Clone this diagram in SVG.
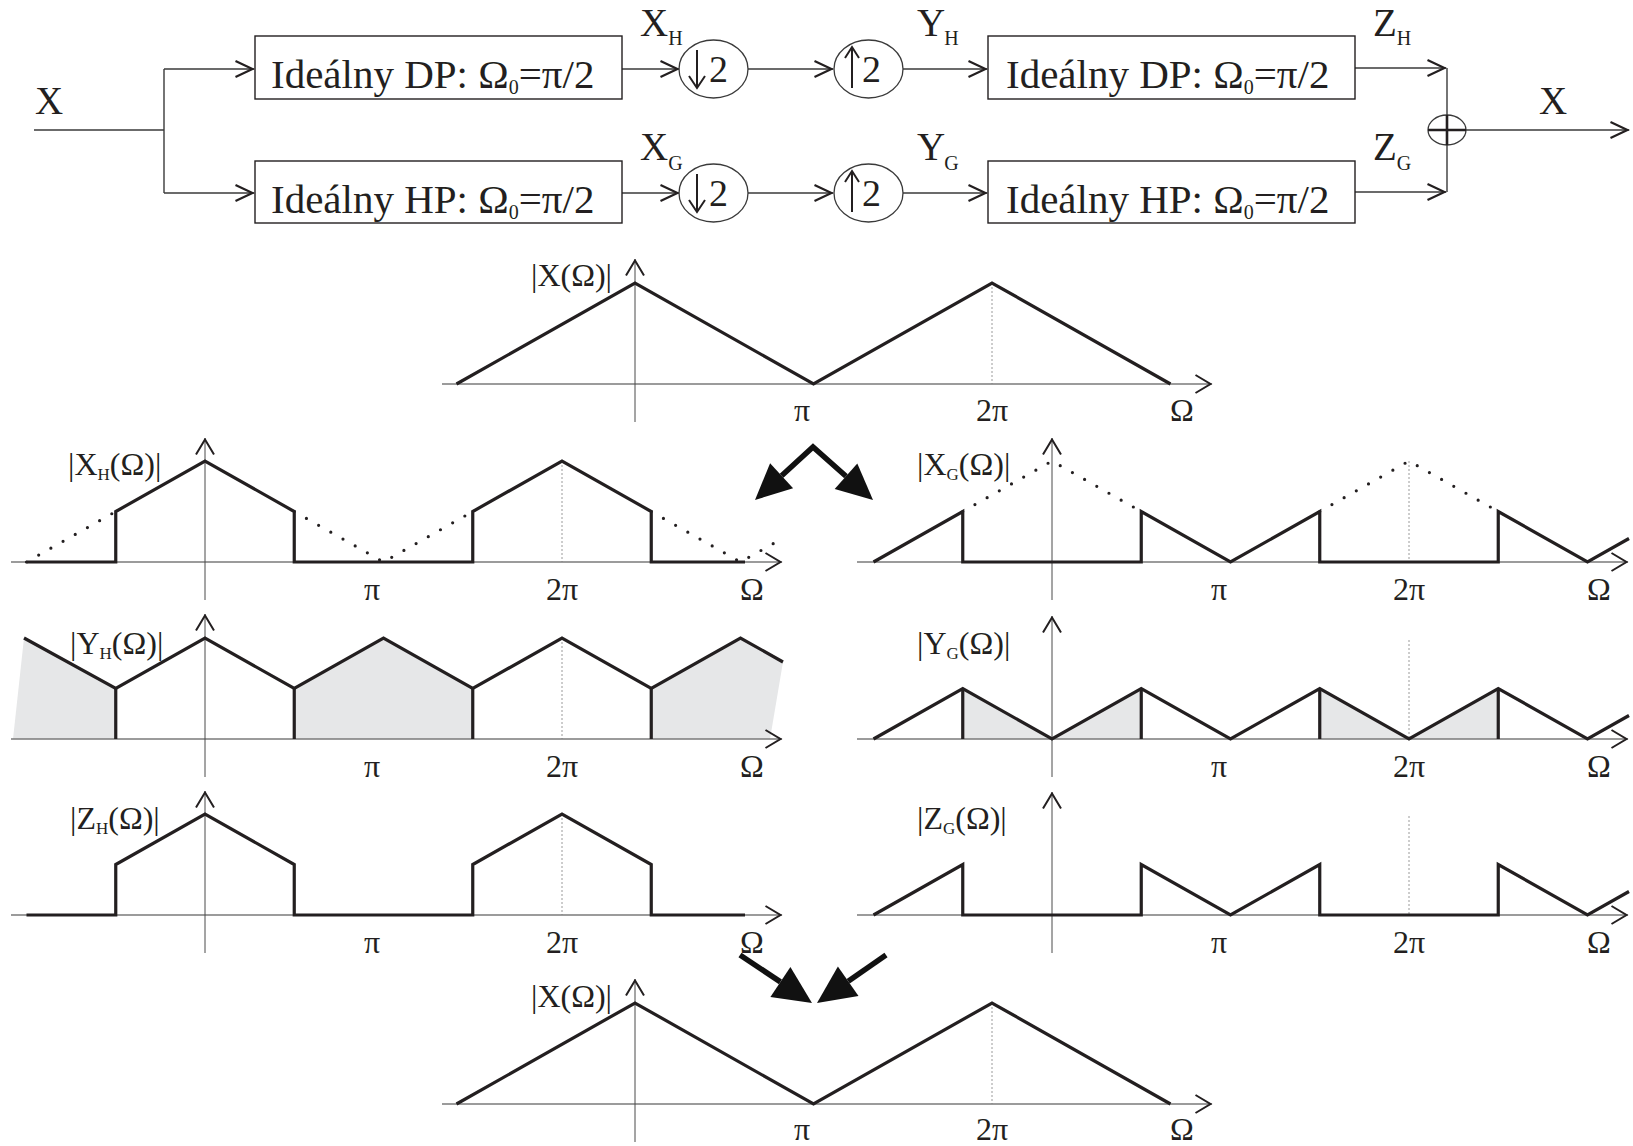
<svg xmlns="http://www.w3.org/2000/svg" width="1633" height="1146" viewBox="0 0 1633 1146">
  <style>
    text { font-family: "Liberation Serif", "Times New Roman", serif; fill: #231f20; }
    .box { fill: none; stroke: #231f20; stroke-width: 1.4; }
    .wire { fill: none; stroke: #3a3a3a; stroke-width: 1.4; }
    .ftxt { font-size: 41px; }
    .lbl { font-size: 39px; }
    .sub { font-size: 20px; }
    .num { font-size: 38px; }
    .plab { font-size: 32px; }
    .psub { font-size: 17px; }
    .tick { font-size: 32px; text-anchor: middle; }
    .haxis { fill: none; stroke: #7a7a7a; stroke-width: 1.6; }
    .vaxis { fill: none; stroke: #4a4a4a; stroke-width: 1; }
    .curve { fill: none; stroke: #231f20; stroke-width: 3.2; stroke-linejoin: miter; }
    .dots { fill: none; stroke: #231f20; stroke-width: 3.2; stroke-linecap: round; stroke-dasharray: 0 14; }
    .guide { fill: none; stroke: #9a9a9a; stroke-width: 1; stroke-dasharray: 2 2; }
    .shade { fill: #e6e7e8; stroke: none; }
    .fat { fill: none; stroke: #111; stroke-width: 5.5; stroke-linejoin: miter; }
    .head { fill: #111; }
    .ring { fill: none; stroke: #3a3a3a; stroke-width: 1.3; }
    .inarrow { fill: none; stroke: #231f20; stroke-width: 2; }
  </style>
  <defs>
    <marker id="chev" viewBox="-20 -10 22 20" refX="1.5" refY="0" markerWidth="22" markerHeight="20" orient="auto" markerUnits="userSpaceOnUse">
      <path d="M-17,-8 L0,0 L-17,8" fill="none" stroke="#231f20" stroke-width="2.2"/>
    </marker>
    <marker id="axchev" viewBox="-20 -10 22 20" refX="1.5" refY="0" markerWidth="22" markerHeight="20" orient="auto" markerUnits="userSpaceOnUse">
      <path d="M-15,-9 L0,0 L-15,9" fill="none" stroke="#231f20" stroke-width="2"/>
    </marker>
  </defs>

  <!-- ===== filter bank block diagram ===== -->
  <g id="connectors">
    <path class="wire" d="M34,130 H164"/>
    <path class="wire" d="M164,69 V193"/>
    <path class="wire" d="M164,69 H254" marker-end="url(#chev)"/>
    <path class="wire" d="M164,193 H254" marker-end="url(#chev)"/>
    <path class="wire" d="M622,69 H679" marker-end="url(#chev)"/>
    <path class="wire" d="M622,193 H679" marker-end="url(#chev)"/>
    <path class="wire" d="M748,69 H833" marker-end="url(#chev)"/>
    <path class="wire" d="M748,193 H833" marker-end="url(#chev)"/>
    <path class="wire" d="M903,69 H987" marker-end="url(#chev)"/>
    <path class="wire" d="M903,193 H987" marker-end="url(#chev)"/>
    <path class="wire" d="M1355,68 H1446" marker-end="url(#chev)"/>
    <path class="wire" d="M1355,192 H1446" marker-end="url(#chev)"/>
    <path class="wire" d="M1447,68 V192"/>
    <path class="wire" d="M1466,130 H1629" marker-end="url(#chev)"/>
  </g>

  <text class="lbl" x="35" y="114">X</text>
  <text class="lbl" x="1539" y="114">X</text>

  <g id="lp-analysis">
    <rect class="box" x="255" y="36" width="367" height="63"/>
    <text class="ftxt" x="271" y="88">Ideálny DP: Ω<tspan class="sub" dy="6">0</tspan><tspan dy="-6">=π/2</tspan></text>
  </g>
  <g id="hp-analysis">
    <rect class="box" x="255" y="161" width="367" height="62"/>
    <text class="ftxt" x="271" y="213">Ideálny HP: Ω<tspan class="sub" dy="6">0</tspan><tspan dy="-6">=π/2</tspan></text>
  </g>
  <g id="down-h">
    <ellipse class="ring" cx="713.5" cy="69" rx="34.5" ry="29"/>
    <path class="inarrow" d="M697,50 V88 M689,76 L697,88 L705,76"/>
    <text class="num" x="709" y="82">2</text>
  </g>
  <g id="down-g">
    <ellipse class="ring" cx="713.5" cy="193" rx="34.5" ry="29"/>
    <path class="inarrow" d="M697,174 V212 M689,200 L697,212 L705,200"/>
    <text class="num" x="709" y="206">2</text>
  </g>
  <g id="up-h">
    <ellipse class="ring" cx="868.5" cy="69" rx="34.5" ry="29"/>
    <path class="inarrow" d="M852,88 V47 M845,58 L852,47 L859,58"/>
    <text class="num" x="862" y="82">2</text>
  </g>
  <g id="up-g">
    <ellipse class="ring" cx="868.5" cy="193" rx="34.5" ry="29"/>
    <path class="inarrow" d="M852,212 V171 M845,182 L852,171 L859,182"/>
    <text class="num" x="862" y="206">2</text>
  </g>
  <g id="lp-synthesis">
    <rect class="box" x="988" y="36" width="367" height="63"/>
    <text class="ftxt" x="1006" y="88">Ideálny DP: Ω<tspan class="sub" dy="6">0</tspan><tspan dy="-6">=π/2</tspan></text>
  </g>
  <g id="hp-synthesis">
    <rect class="box" x="988" y="161" width="367" height="62"/>
    <text class="ftxt" x="1006" y="213">Ideálny HP: Ω<tspan class="sub" dy="6">0</tspan><tspan dy="-6">=π/2</tspan></text>
  </g>
  <g id="adder">
    <ellipse class="ring" cx="1447" cy="130" rx="19" ry="15"/>
    <path d="M1428,130 H1466 M1447,115 V145" stroke="#231f20" stroke-width="2.6" fill="none"/>
  </g>

  <!-- signal names -->
  <g id="signal-labels">
    <text class="lbl" x="640" y="36">X<tspan class="sub" dy="9">H</tspan></text>
    <text class="lbl" x="640" y="160">X<tspan class="sub" dy="10">G</tspan></text>
    <text class="lbl" x="917" y="36">Y<tspan class="sub" dx="-1" dy="9">H</tspan></text>
    <text class="lbl" x="917" y="160">Y<tspan class="sub" dx="-1" dy="10">G</tspan></text>
    <text class="lbl" x="1373" y="36">Z<tspan class="sub" dy="9">H</tspan></text>
    <text class="lbl" x="1373" y="160">Z<tspan class="sub" dy="10">G</tspan></text>
  </g>

  <!-- ===== spectrum |X(Ω)| of the input ===== -->
  <g id="spec-x">
    <path class="guide" d="M992,283 V384"/>
    <path class="haxis" d="M442,384 H1212" marker-end="url(#axchev)"/>
    <path class="vaxis" d="M635,422 V259" marker-end="url(#axchev)"/>
    <path class="curve" d="M456.5,384 L635,283 L813.5,384 L992,283 L1170.5,384"/>
    <text class="plab" x="531" y="286">|X(Ω)|</text>
    <text class="tick" x="802" y="421">π</text>
    <text class="tick" x="992" y="421">2π</text>
    <text class="tick" x="1182" y="421">Ω</text>
  </g>

  <!-- ===== |X_H(Ω)| ===== -->
  <g id="spec-xh">
    <path class="guide" d="M562,461 V562"/>
    <path class="haxis" d="M11,562 H782" marker-end="url(#axchev)"/>
    <path class="vaxis" d="M205,600 V438" marker-end="url(#axchev)"/>
    <path class="dots" d="M26.5,562 L115.75,511.5 M294.25,511.5 L383.5,562 L472.75,511.5 M651.25,511.5 L740.5,562 L785,537"/>
    <path class="curve" d="M26.5,562 H115.75 V511.5 L205,461 L294.25,511.5 V562 H472.75 V511.5 L562,461 L651.25,511.5 V562 H745"/>
    <text class="plab" x="68" y="475">|X<tspan class="psub" dy="5">H</tspan><tspan dy="-5">(Ω)|</tspan></text>
    <text class="tick" x="372" y="600">π</text>
    <text class="tick" x="562" y="600">2π</text>
    <text class="tick" x="752" y="600">Ω</text>
  </g>

  <!-- ===== |X_G(Ω)| ===== -->
  <g id="spec-xg">
    <path class="guide" d="M1409,461 V562"/>
    <path class="haxis" d="M857,562 H1628" marker-end="url(#axchev)"/>
    <path class="vaxis" d="M1052,600 V438" marker-end="url(#axchev)"/>
    <path class="dots" d="M962.75,511.5 L1052,461 L1141.25,511.5 M1319.75,511.5 L1409,461 L1498.25,511.5"/>
    <path class="curve" d="M873.5,562 L962.75,511.5 V562 H1141.25 V511.5 L1230.5,562 L1319.75,511.5 V562 H1498.25 V511.5 L1587.5,562 L1629,538.5"/>
    <text class="plab" x="917" y="475">|X<tspan class="psub" dy="5">G</tspan><tspan dy="-5">(Ω)|</tspan></text>
    <text class="tick" x="1219" y="600">π</text>
    <text class="tick" x="1409" y="600">2π</text>
    <text class="tick" x="1599" y="600">Ω</text>
  </g>

  <!-- ===== |Y_H(Ω)| ===== -->
  <g id="spec-yh">
    <path class="shade" d="M13,739 L24,638 L115.75,688.5 V739 Z"/>
    <path class="shade" d="M294.25,739 V688.5 L383.5,638 L472.75,688.5 V739 Z"/>
    <path class="shade" d="M651.25,739 V688.5 L740.5,638 L783,662 L770,739 Z"/>
    <path class="guide" d="M562,638 V739"/>
    <path class="haxis" d="M11,739 H782" marker-end="url(#axchev)"/>
    <path class="vaxis" d="M205,777 V614" marker-end="url(#axchev)"/>
    <path class="curve" d="M24,638 L115.75,688.5 L205,638 L294.25,688.5 L383.5,638 L472.75,688.5 L562,638 L651.25,688.5 L740.5,638 L783,662"/>
    <path class="curve" d="M115.75,688.5 V739 M294.25,688.5 V739 M472.75,688.5 V739 M651.25,688.5 V739"/>
    <text class="plab" x="70" y="654">|Y<tspan class="psub" dy="5">H</tspan><tspan dy="-5">(Ω)|</tspan></text>
    <text class="tick" x="372" y="777">π</text>
    <text class="tick" x="562" y="777">2π</text>
    <text class="tick" x="752" y="777">Ω</text>
  </g>

  <!-- ===== |Y_G(Ω)| ===== -->
  <g id="spec-yg">
    <path class="shade" d="M962.75,688.5 L1052,739 H962.75 Z"/>
    <path class="shade" d="M1052,739 L1141.25,688.5 V739 Z"/>
    <path class="shade" d="M1319.75,688.5 L1409,739 H1319.75 Z"/>
    <path class="shade" d="M1409,739 L1498.25,688.5 V739 Z"/>
    <path class="guide" d="M1409,640 V739"/>
    <path class="haxis" d="M857,739 H1628" marker-end="url(#axchev)"/>
    <path class="vaxis" d="M1052,777 V616" marker-end="url(#axchev)"/>
    <path class="curve" d="M873.5,739 L962.75,688.5 L1052,739 L1141.25,688.5 L1230.5,739 L1319.75,688.5 L1409,739 L1498.25,688.5 L1587.5,739 L1629,715.5"/>
    <path class="curve" d="M962.75,688.5 V739 M1141.25,688.5 V739 M1319.75,688.5 V739 M1498.25,688.5 V739"/>
    <text class="plab" x="917" y="654">|Y<tspan class="psub" dy="5">G</tspan><tspan dy="-5">(Ω)|</tspan></text>
    <text class="tick" x="1219" y="777">π</text>
    <text class="tick" x="1409" y="777">2π</text>
    <text class="tick" x="1599" y="777">Ω</text>
  </g>

  <!-- ===== |Z_H(Ω)| ===== -->
  <g id="spec-zh">
    <path class="guide" d="M562,814 V915"/>
    <path class="haxis" d="M11,915 H782" marker-end="url(#axchev)"/>
    <path class="vaxis" d="M205,953 V791" marker-end="url(#axchev)"/>
    <path class="curve" d="M26.5,915 H115.75 V864.5 L205,814 L294.25,864.5 V915 H472.75 V864.5 L562,814 L651.25,864.5 V915 H745"/>
    <text class="plab" x="70" y="829">|Z<tspan class="psub" dy="5">H</tspan><tspan dy="-5">(Ω)|</tspan></text>
    <text class="tick" x="372" y="953">π</text>
    <text class="tick" x="562" y="953">2π</text>
    <text class="tick" x="752" y="953">Ω</text>
  </g>

  <!-- ===== |Z_G(Ω)| ===== -->
  <g id="spec-zg">
    <path class="guide" d="M1409,816 V915"/>
    <path class="haxis" d="M857,915 H1628" marker-end="url(#axchev)"/>
    <path class="vaxis" d="M1052,953 V792" marker-end="url(#axchev)"/>
    <path class="curve" d="M873.5,915 L962.75,864.5 V915 H1141.25 V864.5 L1230.5,915 L1319.75,864.5 V915 H1498.25 V864.5 L1587.5,915 L1629,891.5"/>
    <text class="plab" x="917" y="829">|Z<tspan class="psub" dy="5">G</tspan><tspan dy="-5">(Ω)|</tspan></text>
    <text class="tick" x="1219" y="953">π</text>
    <text class="tick" x="1409" y="953">2π</text>
    <text class="tick" x="1599" y="953">Ω</text>
  </g>

  <!-- ===== reconstructed |X(Ω)| ===== -->
  <g id="spec-x-out">
    <path class="guide" d="M992,1003 V1104"/>
    <path class="haxis" d="M442,1104 H1212" marker-end="url(#axchev)"/>
    <path class="vaxis" d="M635,1142 V979" marker-end="url(#axchev)"/>
    <path class="curve" d="M456.5,1104 L635,1003 L813.5,1104 L992,1003 L1170.5,1104"/>
    <text class="plab" x="531" y="1007">|X(Ω)|</text>
    <text class="tick" x="802" y="1140">π</text>
    <text class="tick" x="992" y="1140">2π</text>
    <text class="tick" x="1182" y="1140">Ω</text>
  </g>

  <!-- ===== flow arrows between spectra ===== -->
  <g id="split-arrows">
    <path class="fat" d="M781.6,475.7 L813,447 L846,476.2"/>
    <path class="head" d="M755,500 L793.1,488.2 L770.1,463.2 Z"/>
    <path class="head" d="M873,500 L834.7,489 L857.3,463.5 Z"/>
  </g>
  <g id="merge-arrows">
    <path class="fat" d="M740,955 L780.4,981.9"/>
    <path class="head" d="M812,1003 L770.4,996.9 L790.4,966.9 Z"/>
    <path class="fat" d="M886,955 L848.2,981.3"/>
    <path class="head" d="M817,1003 L858.5,996.1 L837.9,966.5 Z"/>
  </g>
</svg>
